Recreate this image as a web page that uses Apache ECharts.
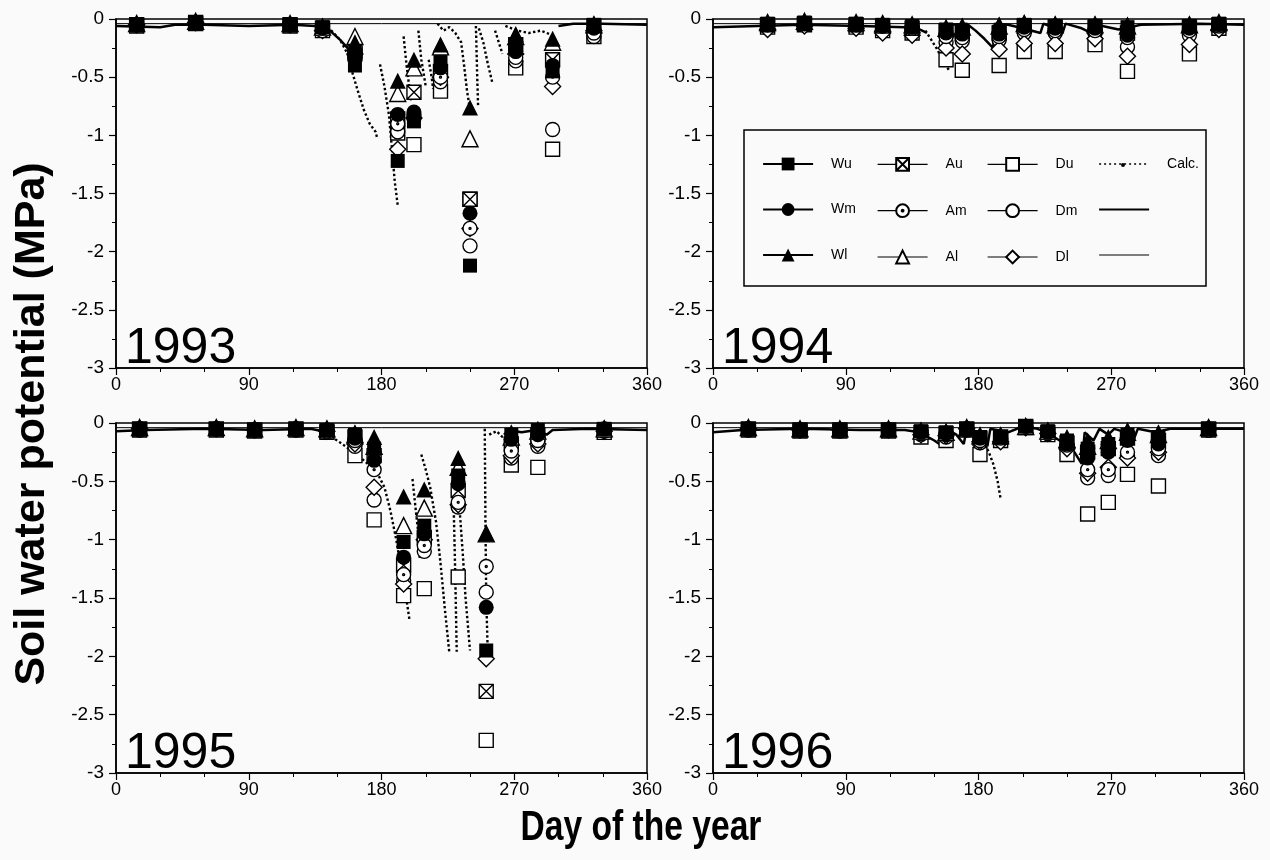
<!DOCTYPE html>
<html>
<head>
<meta charset="utf-8">
<script src="https://cdn.jsdelivr.net/npm/echarts@6/dist/echarts.min.js"></script>
<style>
  html, body { margin: 0; padding: 0; background: #fafafa; }
  #main { width: 1270px; height: 860px; }
</style>
</head>
<body>
<div id="main"></div>
<script>
// ---- data ----
var yearNames = ['1993', '1994', '1995', '1996'];
var xTicks = [0, 90, 180, 270, 360];
var yTicks = [0, -0.5, -1, -1.5, -2, -2.5, -3];

// sampling days per year
var days1993 = [14, 54, 118, 140, 162, 191, 202, 220, 240, 271, 296, 324];
var Wu1993 = [-0.05, -0.03, -0.05, -0.07, -0.40, -1.22, -0.88, -0.37, -2.12, -0.25, -0.45, -0.05];
var Au1993 = [-0.05, -0.03, -0.05, -0.08, -0.28, -0.86, -0.63, -0.45, -1.55, -0.22, -0.35, -0.06];
var Du1993 = [-0.06, -0.04, -0.06, -0.10, -0.30, -0.98, -1.08, -0.62, -1.55, -0.42, -1.12, -0.15];
var Wm1993 = [-0.05, -0.03, -0.05, -0.08, -0.30, -0.82, -0.80, -0.42, -1.67, -0.28, -0.40, -0.08];
var Am1993 = [-0.05, -0.03, -0.05, -0.10, -0.28, -0.90, -0.82, -0.50, -1.80, -0.33, -0.50, -0.12];
var Dm1993 = [-0.05, -0.04, -0.05, -0.10, -0.30, -0.97, -0.85, -0.54, -1.95, -0.36, -0.95, -0.15];
var Wl1993 = [-0.04, -0.02, -0.04, -0.06, -0.20, -0.53, -0.35, -0.22, -0.76, -0.13, -0.17, -0.04];
var Al1993 = [-0.04, -0.02, -0.04, -0.07, -0.15, -0.64, -0.42, -0.24, -1.03, -0.15, -0.20, -0.05];
var Dl1993 = [-0.05, -0.03, -0.05, -0.10, -0.30, -1.12, -0.85, -0.50, -1.80, -0.30, -0.58, -0.10];

var days1994 = [37, 62, 97, 115, 135, 158, 169, 194, 211, 232, 259, 281, 323, 343];
var Wu1994 = [-0.04, -0.03, -0.04, -0.05, -0.06, -0.09, -0.11, -0.11, -0.05, -0.06, -0.06, -0.07, -0.06, -0.04];
var Au1994 = [-0.05, -0.04, -0.05, -0.06, -0.08, -0.10, -0.12, -0.12, -0.06, -0.07, -0.07, -0.12, -0.07, -0.05];
var Du1994 = [-0.07, -0.05, -0.07, -0.10, -0.12, -0.35, -0.44, -0.40, -0.28, -0.28, -0.22, -0.45, -0.30, -0.08];
var Wm1994 = [-0.05, -0.04, -0.05, -0.06, -0.07, -0.12, -0.13, -0.13, -0.07, -0.08, -0.08, -0.14, -0.08, -0.05];
var Am1994 = [-0.05, -0.04, -0.05, -0.06, -0.08, -0.15, -0.16, -0.15, -0.09, -0.10, -0.10, -0.16, -0.10, -0.06];
var Dm1994 = [-0.06, -0.05, -0.06, -0.08, -0.10, -0.20, -0.19, -0.18, -0.12, -0.12, -0.12, -0.24, -0.14, -0.07];
var Wl1994 = [-0.03, -0.02, -0.03, -0.04, -0.05, -0.07, -0.06, -0.05, -0.03, -0.04, -0.04, -0.05, -0.04, -0.03];
var Al1994 = [-0.03, -0.02, -0.03, -0.04, -0.05, -0.08, -0.07, -0.06, -0.04, -0.05, -0.05, -0.06, -0.05, -0.03];
var Dl1994 = [-0.09, -0.06, -0.08, -0.12, -0.14, -0.25, -0.30, -0.26, -0.21, -0.21, -0.17, -0.32, -0.22, -0.09];

var days1995 = [16, 68, 94, 122, 143, 162, 175, 195, 209, 232, 251, 268, 286, 331];
var Wu1995 = [-0.05, -0.05, -0.06, -0.05, -0.06, -0.10, -0.22, -1.02, -0.88, -0.45, -1.95, -0.10, -0.06, -0.05];
var Au1995 = [-0.05, -0.05, -0.06, -0.05, -0.07, -0.12, -0.28, -1.22, -0.98, -0.58, -2.30, -0.18, -0.10, -0.06];
var Du1995 = [-0.06, -0.06, -0.07, -0.06, -0.08, -0.28, -0.83, -1.48, -1.42, -1.32, -2.72, -0.36, -0.38, -0.08];
var Wm1995 = [-0.05, -0.05, -0.06, -0.05, -0.06, -0.13, -0.32, -1.15, -0.95, -0.52, -1.58, -0.14, -0.10, -0.05];
var Am1995 = [-0.05, -0.05, -0.06, -0.05, -0.07, -0.15, -0.40, -1.30, -1.05, -0.68, -1.23, -0.24, -0.15, -0.06];
var Dm1995 = [-0.06, -0.05, -0.06, -0.06, -0.08, -0.20, -0.66, -1.35, -1.10, -0.72, -1.45, -0.30, -0.20, -0.07];
var Wl1995 = [-0.04, -0.04, -0.05, -0.04, -0.05, -0.08, -0.12, -0.63, -0.57, -0.30, -0.95, -0.08, -0.05, -0.04];
var Al1995 = [-0.04, -0.04, -0.05, -0.04, -0.05, -0.10, -0.20, -0.88, -0.73, -0.38, -0.95, -0.12, -0.07, -0.05];
var Dl1995 = [-0.05, -0.05, -0.06, -0.05, -0.07, -0.18, -0.55, -1.38, -1.00, -0.70, -2.02, -0.28, -0.18, -0.07];

var days1996 = [24, 59, 86, 119, 141, 158, 172, 181, 195, 212, 227, 240, 254, 268, 281, 302, 336];
var Wu1996 = [-0.05, -0.06, -0.06, -0.06, -0.07, -0.08, -0.05, -0.12, -0.12, -0.03, -0.07, -0.15, -0.22, -0.18, -0.10, -0.12, -0.05];
var Au1996 = [-0.05, -0.06, -0.06, -0.06, -0.08, -0.09, -0.05, -0.13, -0.12, -0.03, -0.08, -0.17, -0.25, -0.22, -0.13, -0.15, -0.05];
var Du1996 = [-0.06, -0.07, -0.07, -0.07, -0.12, -0.15, -0.06, -0.27, -0.15, -0.04, -0.10, -0.27, -0.78, -0.68, -0.44, -0.54, -0.06];
var Wm1996 = [-0.05, -0.06, -0.06, -0.06, -0.08, -0.09, -0.05, -0.13, -0.12, -0.03, -0.08, -0.18, -0.30, -0.25, -0.15, -0.18, -0.05];
var Am1996 = [-0.05, -0.06, -0.06, -0.06, -0.09, -0.10, -0.05, -0.15, -0.13, -0.04, -0.09, -0.19, -0.40, -0.40, -0.25, -0.22, -0.06];
var Dm1996 = [-0.06, -0.06, -0.07, -0.06, -0.10, -0.12, -0.06, -0.17, -0.14, -0.04, -0.09, -0.20, -0.47, -0.45, -0.28, -0.28, -0.06];
var Wl1996 = [-0.04, -0.05, -0.05, -0.05, -0.06, -0.07, -0.04, -0.10, -0.10, -0.02, -0.06, -0.12, -0.15, -0.12, -0.06, -0.08, -0.04];
var Al1996 = [-0.04, -0.05, -0.05, -0.05, -0.07, -0.08, -0.04, -0.11, -0.11, -0.03, -0.07, -0.14, -0.20, -0.15, -0.08, -0.10, -0.04];
var Dl1996 = [-0.05, -0.06, -0.06, -0.06, -0.10, -0.11, -0.05, -0.16, -0.16, -0.04, -0.09, -0.22, -0.43, -0.38, -0.30, -0.25, -0.05];

// calculated potential, dotted drying curves (each inner list = one drying spell) [day, MPa]
var calc1993 = [
  [[140, -0.06], [146, -0.10], [152, -0.18], [157, -0.30], [160, -0.45], [164, -0.62], [168, -0.78], [172, -0.90], [176, -0.97], [177, -1.02]],
  [[179, -0.39], [182, -0.58], [185, -0.82], [187, -1.10], [189, -1.40], [191, -1.60]],
  [[195, -0.15], [197, -0.40], [200, -0.70]],
  [[205, -0.10], [207, -0.35], [210, -0.58]],
  [[212, -0.35], [214, -0.50], [215, -0.60]],
  [[218, -0.04], [222, -0.10], [226, -0.07], [230, -0.12], [234, -0.20], [236, -0.40], [238, -0.62], [240, -0.78]],
  [[244, -0.06], [244.5, -0.30], [245, -0.55], [245.5, -0.75]],
  [[246, -0.08], [249, -0.20], [252, -0.38], [255, -0.54]],
  [[257, -0.10], [260, -0.22], [262, -0.30]],
  [[264, -0.06], [272, -0.10], [280, -0.12], [288, -0.10], [294, -0.13], [299, -0.22]]
];
var calc1994 = [
  [[144, -0.10], [148, -0.18], [152, -0.26], [156, -0.36], [160, -0.44]]
];
var calc1995 = [
  [[140, -0.08], [150, -0.15], [160, -0.24], [168, -0.32], [175, -0.40], [178, -0.45], [182, -0.55], [186, -0.75], [190, -1.00], [194, -1.30], [197, -1.52], [199, -1.69]],
  [[201, -0.48], [203, -0.72], [205, -0.95], [206, -1.17]],
  [[207, -0.27], [210, -0.40], [213, -0.55], [217, -0.85], [220, -1.20], [223, -1.60], [226, -1.97]],
  [[229, -0.75], [230, -1.30], [231, -1.96]],
  [[233, -0.75], [235, -1.10], [237, -1.50], [240, -1.95]],
  [[250, -0.05], [250.5, -0.90], [251, -1.50], [252, -1.95]],
  [[253, -0.10], [258, -0.07], [262, -0.12], [266, -0.05]]
];
var calc1996 = [
  [[183, -0.15], [187, -0.25], [190, -0.35], [193, -0.50], [195, -0.65]]
];

// solid (thick) calculated line near the surface
var solid1993 = [
  [[0, -0.06], [30, -0.07], [40, -0.05], [60, -0.05], [90, -0.06], [120, -0.05], [135, -0.06], [145, -0.10], [152, -0.18], [157, -0.25]],
  [[300, -0.06], [310, -0.04], [330, -0.04], [360, -0.05]]
];
var solid1994 = [
  [[0, -0.07], [30, -0.06], [60, -0.05], [100, -0.06], [130, -0.07], [140, -0.09], [145, -0.12]],
  [[162, -0.05], [172, -0.04], [178, -0.10], [184, -0.17], [190, -0.25], [191, -0.04], [200, -0.05], [210, -0.08], [222, -0.12], [224, -0.04], [232, -0.08], [237, -0.12], [239, -0.04], [250, -0.08], [258, -0.13], [260, -0.05], [275, -0.09], [283, -0.07], [290, -0.05], [330, -0.04], [360, -0.05]]
];
var solid1995 = [
  [[0, -0.07], [20, -0.06], [60, -0.05], [100, -0.06], [132, -0.05], [140, -0.07]],
  [[266, -0.06], [275, -0.08], [285, -0.06], [292, -0.10], [296, -0.06], [320, -0.05], [360, -0.06]]
];
var solid1996 = [
  [[0, -0.08], [20, -0.06], [60, -0.05], [100, -0.06], [130, -0.06], [140, -0.08], [150, -0.15], [156, -0.20], [158, -0.05], [165, -0.10], [170, -0.18], [172, -0.05], [180, -0.10], [186, -0.20], [188, -0.05], [200, -0.08], [210, -0.03], [220, -0.05], [226, -0.08], [235, -0.15], [245, -0.25], [250, -0.35], [252, -0.08], [258, -0.15], [262, -0.05], [268, -0.10], [272, -0.05], [280, -0.08], [285, -0.15], [288, -0.05], [300, -0.08], [310, -0.05], [360, -0.05]]
];
// thin solid line (second unlabeled legend entry)
var thin1993 = [[0, -0.04], [360, -0.04]];
var thin1994 = [[0, -0.04], [360, -0.04]];
var thin1995 = [[0, -0.04], [360, -0.04]];
var thin1996 = [[0, -0.04], [360, -0.04]];

// ---- build ----
var yearTable = [
  {days: days1993, Wu: Wu1993, Au: Au1993, Du: Du1993, Wm: Wm1993, Am: Am1993, Dm: Dm1993, Wl: Wl1993, Al: Al1993, Dl: Dl1993, calc: calc1993, solid: solid1993, thin: thin1993},
  {days: days1994, Wu: Wu1994, Au: Au1994, Du: Du1994, Wm: Wm1994, Am: Am1994, Dm: Dm1994, Wl: Wl1994, Al: Al1994, Dl: Dl1994, calc: calc1994, solid: solid1994, thin: thin1994},
  {days: days1995, Wu: Wu1995, Au: Au1995, Du: Du1995, Wm: Wm1995, Am: Am1995, Dm: Dm1995, Wl: Wl1995, Al: Al1995, Dl: Dl1995, calc: calc1995, solid: solid1995, thin: thin1995},
  {days: days1996, Wu: Wu1996, Au: Au1996, Du: Du1996, Wm: Wm1996, Am: Am1996, Dm: Dm1996, Wl: Wl1996, Al: Al1996, Dl: Dl1996, calc: calc1996, solid: solid1996, thin: thin1996}
];

var FONT = 'Liberation Sans, Arial, sans-serif';
var squareX = 'path://M0,0L20,0L20,20L0,20Z M0,0L20,20 M20,0L0,20';
var circleDot = 'path://M10,0A10,10 0 1,1 9.99,0Z M10,8.6A1.4,1.4 0 1,1 9.99,8.6Z';

// drawing order: D under A under W
var markers = [
  {name: 'Du', symbol: 'rect', fill: '#fff', size: 14},
  {name: 'Dm', symbol: 'circle', fill: '#fff', size: 14},
  {name: 'Dl', symbol: 'diamond', fill: '#fff', size: 16},
  {name: 'Au', symbol: squareX, fill: '#fff', size: 14},
  {name: 'Am', symbol: circleDot, fill: '#fff', size: 14},
  {name: 'Al', symbol: 'triangle', fill: '#fff', size: 16},
  {name: 'Wu', symbol: 'rect', fill: '#000', size: 14},
  {name: 'Wm', symbol: 'circle', fill: '#000', size: 15},
  {name: 'Wl', symbol: 'triangle', fill: '#000', size: 16}
];

var gridPos = [
  {left: 116, top: 19, width: 531, height: 349},
  {left: 713, top: 19, width: 531, height: 349},
  {left: 116, top: 423, width: 531, height: 350},
  {left: 713, top: 423, width: 531, height: 350}
];

var grids = [], xAxes = [], yAxes = [], series = [], titles = [];
gridPos.forEach(function (g, i) {
  grids.push({left: g.left, top: g.top, width: g.width, height: g.height,
    show: true, borderColor: '#000', borderWidth: 1.5, backgroundColor: 'transparent'});
  xAxes.push({type: 'value', gridIndex: i, min: xTicks[0], max: xTicks[xTicks.length - 1], interval: 90,
    axisLine: {show: true, onZero: false, lineStyle: {color: '#000', width: 1.5}},
    axisTick: {show: true, inside: false, length: 7, lineStyle: {color: '#000', width: 1.2}},
    minorTick: {show: true, splitNumber: 3, length: 4, lineStyle: {color: '#000', width: 1}},
    splitLine: {show: false},
    axisLabel: {color: '#000', fontSize: 18, fontFamily: FONT, margin: 8}});
  yAxes.push({type: 'value', gridIndex: i, min: yTicks[yTicks.length - 1], max: yTicks[0], interval: 0.5,
    axisLine: {show: true, onZero: false, lineStyle: {color: '#000', width: 1.5}},
    axisTick: {show: true, inside: false, length: 7, lineStyle: {color: '#000', width: 1.2}},
    minorTick: {show: true, splitNumber: 2, length: 4, lineStyle: {color: '#000', width: 1}},
    splitLine: {show: false},
    axisLabel: {color: '#000', fontSize: 19, fontFamily: FONT, margin: 12}});
  titles.push({text: yearNames[i], left: g.left + 9, top: g.top + g.height - 44, padding: 0,
    textStyle: {fontSize: 50, fontWeight: 'normal', fontFamily: FONT, color: '#000'}});

  var yd = yearTable[i];
  yd.solid.forEach(function (seg) {
    series.push({type: 'line', name: ' ', xAxisIndex: i, yAxisIndex: i, data: seg, symbol: 'none',
      lineStyle: {color: '#000', width: 2.5}, z: 2, silent: true});
  });
  series.push({type: 'line', name: '  ', xAxisIndex: i, yAxisIndex: i, data: yd.thin, symbol: 'none',
    lineStyle: {color: '#000', width: 1}, z: 2, silent: true});
  yd.calc.forEach(function (seg) {
    series.push({type: 'line', name: 'Calc.', xAxisIndex: i, yAxisIndex: i, data: seg,
      symbol: 'circle', symbolSize: 4, showSymbol: false,
      itemStyle: {color: '#000'},
      lineStyle: {color: '#000', width: 2.4, type: [2.4, 2.4]}, z: 2, silent: true});
  });
  markers.forEach(function (m, k) {
    var pts = yd.days.map(function (d, j) { return [d, yd[m.name][j]]; });
    series.push({type: 'line', name: m.name, xAxisIndex: i, yAxisIndex: i, data: pts,
      symbol: m.symbol, symbolSize: m.size, showAllSymbol: true, showSymbol: true,
      itemStyle: {color: m.fill, borderColor: '#000', borderWidth: m.fill === '#000' ? 0 : 1.4},
      lineStyle: {opacity: 0, width: 0}, z: 3 + k, silent: true});
  });
});

// legend: four columns, three rows
var legendCols = [['Wu', 'Wm', 'Wl'], ['Au', 'Am', 'Al'], ['Du', 'Dm', 'Dl'], ['Calc.', ' ', '  ']];
var legendLefts = [762, 877, 987, 1098];
var legends = legendCols.map(function (col, c) {
  return {
    left: legendLefts[c], top: 157, padding: 0, orient: 'vertical', selectedMode: false,
    itemWidth: 50, itemHeight: 16, itemGap: 31.5,
    lineStyle: {color: '#000', width: 1.2, opacity: 1, type: 'solid'},
    textStyle: {fontSize: 14, fontFamily: FONT, color: '#000', padding: [0, 0, 0, 13]},
    data: col.map(function (n) {
      if (n === 'Calc.') return {name: n, itemStyle: {opacity: 0}, lineStyle: {type: [2, 3], width: 1.5, color: '#000', opacity: 1}};
      if (n === ' ') return {name: n, itemStyle: {opacity: 0}, lineStyle: {width: 2.2, color: '#000', opacity: 1, type: 'solid'}};
      if (n === '  ') return {name: n, itemStyle: {opacity: 0}, lineStyle: {width: 1.2, color: '#000', opacity: 1, type: 'solid'}};
      if (n.charAt(0) === 'W') return {name: n, lineStyle: {width: 2.2, color: '#000', opacity: 1, type: 'solid'}};
      return {name: n};
    })
  };
});

var chart = echarts.init(document.getElementById('main'), null, {renderer: 'canvas'});
chart.setOption({
  backgroundColor: '#fafafa',
  animation: false,
  title: titles,
  grid: grids,
  xAxis: xAxes,
  yAxis: yAxes,
  legend: legends,
  graphic: [
    {type: 'rect', shape: {x: 744, y: 130, width: 462, height: 156}, style: {fill: 'none', stroke: '#000', lineWidth: 1.5}, z: 1},
    // small dot in the middle of the Calc. legend sample
    {type: 'circle', shape: {cx: 1123, cy: 165, r: 2}, style: {fill: '#000'}, z: 10},
    {type: 'text', x: 32, y: 424, rotation: Math.PI / 2,
      style: {text: 'Soil water potential (MPa)', font: 'bold 43px Liberation Sans, Arial, sans-serif', fill: '#000', textAlign: 'center', textVerticalAlign: 'middle'}},
    {type: 'text', x: 641, y: 828, scaleX: 0.8,
      style: {text: 'Day of the year', font: 'bold 42px Liberation Sans, Arial, sans-serif', fill: '#000', textAlign: 'center', textVerticalAlign: 'middle'}}
  ],
  series: series
});
</script>
</body>
</html>
